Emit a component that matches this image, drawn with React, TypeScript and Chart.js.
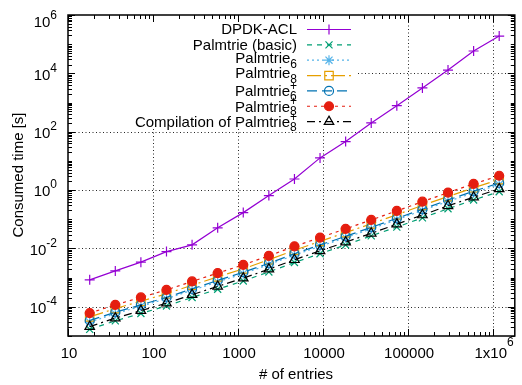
import { useEffect, useRef } from "react";
import { Chart, registerables } from "chart.js";

Chart.register(...registerables);

const FONT = "'Liberation Sans', Arial, Helvetica, sans-serif";

// number of entries (x)
const entries = [18, 36, 72, 144, 288, 576, 1152, 2304, 4608, 9216, 18432, 36864, 73728, 147456, 294912, 589824, 1179648];

// consumed time [s]
const dpdkAcl = [8.4e-4, 1.7e-3, 3.4e-3, 7.8e-3, 0.0133, 0.051, 0.169, 0.65, 2.4, 12.7, 46, 200, 780, 3160, 13000, 58500, 190000];
const palmtrieBasic = [1.7e-5, 3.3e-5, 5.9e-5, 1.07e-4, 2.1e-4, 4.0e-4, 7.7e-4, 1.57e-3, 3.3e-3, 6.6e-3, 0.0132, 0.027, 0.054, 0.112, 0.23, 0.46, 0.88];
const palmtrie6 = [3.0e-5, 5.8e-5, 1.05e-4, 1.9e-4, 3.7e-4, 7.1e-4, 1.37e-3, 2.8e-3, 5.9e-3, 0.0118, 0.0235, 0.047, 0.097, 0.2, 0.41, 0.81, 1.55];
const palmtrie8 = [4.5e-5, 8.7e-5, 1.55e-4, 2.8e-4, 5.5e-4, 1.06e-3, 2.0e-3, 4.1e-3, 8.7e-3, 0.0175, 0.035, 0.07, 0.143, 0.3, 0.6, 1.2, 2.3];
const palmtriePlus6 = [3.4e-5, 6.5e-5, 1.17e-4, 2.1e-4, 4.1e-4, 8.0e-4, 1.54e-3, 3.1e-3, 6.6e-3, 0.0132, 0.026, 0.053, 0.108, 0.22, 0.46, 0.91, 1.75];
const palmtriePlus8 = [6.1e-5, 1.17e-4, 2.1e-4, 3.8e-4, 7.4e-4, 1.43e-3, 2.75e-3, 5.6e-3, 0.0118, 0.0236, 0.047, 0.095, 0.194, 0.4, 0.82, 1.63, 3.1];
const compilationPlus8 = [2.1e-5, 4.1e-5, 7.4e-5, 1.33e-4, 2.6e-4, 5.0e-4, 9.6e-4, 1.95e-3, 4.1e-3, 8.3e-3, 0.0165, 0.033, 0.068, 0.14, 0.29, 0.57, 1.1];

// legend labels (main text, superscript, subscript)
const legendLabels = [
  { text: "DPDK-ACL" },
  { text: "Palmtrie (basic)" },
  { text: "Palmtrie", sub: "6" },
  { text: "Palmtrie", sub: "8" },
  { text: "Palmtrie", sup: "+", sub: "6" },
  { text: "Palmtrie", sup: "+", sub: "8" },
  { text: "Compilation of Palmtrie", sup: "+", sub: "8" },
];

// tick labels
const xMajorTicks = [10, 100, 1000, 10000, 100000, 1000000];
const xTickBases = ["10", "100", "1000", "10000", "100000", "1x10"];
const xTickExps = ["", "", "", "", "", "6"];
const yMajorTicks = [1e-4, 1e-2, 1, 1e2, 1e4, 1e6];
const yTickBases = ["10", "10", "10", "10", "10", "10"];
const yTickExps = ["-4", "-2", "0", "2", "4", "6"];
const xGridValues = [100, 1000, 10000, 100000, 1000000];
const yGridValues = [1e-4, 1e-2, 1, 1e2, 1e4];

const X_MIN = 10;
const X_MAX = 1.8e6;
const Y_MIN = 1e-5;
const Y_MAX = 1e6;

const seriesValues = [dpdkAcl, palmtrieBasic, palmtrie6, palmtrie8, palmtriePlus6, palmtriePlus8, compilationPlus8];

const styles = [
  { color: "#9400d3", dash: [] as number[], point: "cross", radius: 5, fill: false },
  { color: "#009e73", dash: [5, 5], point: "crossRot", radius: 5, fill: false },
  { color: "#56b4e9", dash: [2, 3], point: "star", radius: 5, fill: false },
  { color: "#e69f00", dash: [14, 4, 2, 4], point: "rect", radius: 6, fill: false },
  { color: "#0072b2", dash: [10, 5], point: "circle", radius: 4.5, fill: false },
  { color: "#e51e10", dash: [3, 4], point: "circle", radius: 4.5, fill: true },
  { color: "#000000", dash: [8, 4, 2, 4], point: "triangle", radius: 5.5, fill: false },
];

function drawMarker(ctx: CanvasRenderingContext2D, style: string, x: number, y: number, r: number, color: string, fill: boolean) {
  ctx.save();
  ctx.setLineDash([]);
  ctx.strokeStyle = color;
  ctx.fillStyle = color;
  ctx.lineWidth = 1.2;
  ctx.beginPath();
  if (style === "cross" || style === "star") {
    ctx.moveTo(x, y - r); ctx.lineTo(x, y + r);
    ctx.moveTo(x - r, y); ctx.lineTo(x + r, y);
  }
  if (style === "crossRot" || style === "star") {
    const o = r * Math.SQRT1_2;
    ctx.moveTo(x - o, y - o); ctx.lineTo(x + o, y + o);
    ctx.moveTo(x + o, y - o); ctx.lineTo(x - o, y + o);
  }
  if (style === "rect") {
    const s = r * Math.SQRT1_2;
    ctx.rect(x - s, y - s, 2 * s, 2 * s);
  }
  if (style === "circle") {
    ctx.arc(x, y, r, 0, Math.PI * 2);
  }
  if (style === "triangle") {
    let a = 0;
    ctx.moveTo(x + Math.sin(a) * r, y - Math.cos(a) * r);
    a += (2 * Math.PI) / 3;
    ctx.lineTo(x + Math.sin(a) * r, y - Math.cos(a) * r);
    a += (2 * Math.PI) / 3;
    ctx.lineTo(x + Math.sin(a) * r, y - Math.cos(a) * r);
    ctx.closePath();
  }
  if (fill) ctx.fill();
  ctx.stroke();
  ctx.restore();
}

const KEY = { left: 118, right: 358, bottom: 129 };

const gnuplotPlugin = {
  id: "gnuplotDecor",
  beforeDatasetsDraw(chart: any) {
    const { ctx, chartArea: a, scales } = chart;
    const xs = scales.x, ys = scales.y;
    ctx.save();
    ctx.strokeStyle = "rgba(0,0,0,0.85)";
    ctx.lineWidth = 1;
    ctx.setLineDash([1, 2.5]);
    for (const v of xGridValues) {
      const px = Math.round(xs.getPixelForValue(v)) + 0.5;
      const top = px > KEY.left && px < KEY.right ? KEY.bottom : a.top;
      ctx.beginPath();
      ctx.moveTo(px, top);
      ctx.lineTo(px, a.bottom);
      ctx.stroke();
    }
    for (const v of yGridValues) {
      const py = Math.round(ys.getPixelForValue(v)) + 0.5;
      const left = py < KEY.bottom ? KEY.right : a.left;
      ctx.beginPath();
      ctx.moveTo(left, py);
      ctx.lineTo(a.right, py);
      ctx.stroke();
    }
    ctx.restore();
  },
  afterDatasetsDraw(chart: any) {
    const { ctx, chartArea: a, scales } = chart;
    const xs = scales.x, ys = scales.y;
    ctx.save();
    ctx.setLineDash([]);
    ctx.strokeStyle = "#000";
    ctx.fillStyle = "#000";

    // ticks
    ctx.lineWidth = 1;
    const majorLen = 7, minorLen = 4;
    ctx.beginPath();
    for (let k = 1; k <= 6; k++) {
      for (let m = 1; m <= 9; m++) {
        const v = m * Math.pow(10, k);
        if (v < X_MIN || v > X_MAX) continue;
        const len = m === 1 ? majorLen : minorLen;
        const px = Math.round(xs.getPixelForValue(v)) + 0.5;
        ctx.moveTo(px, a.bottom); ctx.lineTo(px, a.bottom - len);
        ctx.moveTo(px, a.top); ctx.lineTo(px, a.top + len);
      }
    }
    for (let k = -5; k <= 6; k++) {
      for (let m = 1; m <= 9; m++) {
        const v = m * Math.pow(10, k);
        if (v < Y_MIN * 0.999 || v > Y_MAX * 1.001) continue;
        const major = m === 1 && k % 2 === 0;
        const len = major ? majorLen : minorLen;
        const py = Math.round(ys.getPixelForValue(v)) + 0.5;
        ctx.moveTo(a.left, py); ctx.lineTo(a.left + len, py);
        ctx.moveTo(a.right, py); ctx.lineTo(a.right - len, py);
      }
    }
    ctx.stroke();

    // border
    ctx.lineWidth = 1.5;
    ctx.strokeRect(a.left, a.top, a.right - a.left, a.bottom - a.top);

    // y tick labels
    const big = `15px ${FONT}`, small = `12px ${FONT}`;
    yMajorTicks.forEach((v, i) => {
      let py = ys.getPixelForValue(v);
      if (v >= Y_MAX) py += 5.5;
      ctx.font = small;
      ctx.textAlign = "right";
      const ew = ctx.measureText(yTickExps[i]).width;
      ctx.fillText(yTickExps[i], 57, py - 1.8);
      ctx.font = big;
      ctx.fillText(yTickBases[i], 57 - ew, py + 6.4);
    });

    // x tick labels
    xMajorTicks.forEach((v, i) => {
      const px = xs.getPixelForValue(v);
      ctx.font = small;
      const ew = xTickExps[i] ? ctx.measureText(xTickExps[i]).width : 0;
      ctx.font = big;
      const bw = ctx.measureText(xTickBases[i]).width;
      const x0 = px - (bw + ew) / 2 + 1;
      ctx.textAlign = "left";
      ctx.fillText(xTickBases[i], x0, 357.5);
      if (ew) {
        ctx.font = small;
        ctx.fillText(xTickExps[i], x0 + bw, 346);
      }
    });

    // axis titles
    ctx.font = big;
    ctx.textAlign = "center";
    ctx.fillText("# of entries", 296, 379);
    ctx.save();
    ctx.translate(22.5, 175);
    ctx.rotate(-Math.PI / 2);
    ctx.fillText("Consumed time [s]", 0, 0);
    ctx.restore();

    // legend
    const rowY0 = 29, rowStep = 15.35, textRight = 297;
    legendLabels.forEach((item: any, i) => {
      const cy = rowY0 + i * rowStep;
      const st = styles[i];
      ctx.fillStyle = "#000";
      if (!item.sub && !item.sup) {
        ctx.font = big;
        ctx.textAlign = "right";
        ctx.fillText(item.text, textRight, cy + 5.4);
      } else {
        ctx.font = small;
        const w = Math.max(item.sub ? ctx.measureText(item.sub).width : 0, item.sup ? ctx.measureText(item.sup).width : 0);
        const x0 = textRight - w;
        ctx.textAlign = "left";
        let base;
        if (item.sup) {
          ctx.fillText(item.sup, x0, cy - 0.5);
          ctx.fillText(item.sub, x0, cy + 9.5);
          base = cy + 6;
        } else {
          ctx.fillText(item.sub, x0, cy + 8.2);
          base = cy + 3;
        }
        ctx.font = big;
        ctx.textAlign = "right";
        ctx.fillText(item.text, x0, base);
      }
      // sample
      ctx.save();
      ctx.strokeStyle = st.color;
      ctx.lineWidth = 1.2;
      ctx.setLineDash(st.dash);
      ctx.beginPath();
      ctx.moveTo(307, cy + 0.5);
      ctx.lineTo(351, cy + 0.5);
      ctx.stroke();
      ctx.restore();
      drawMarker(ctx, st.point, 329, cy + 0.5, st.radius, st.color, st.fill);
    });

    ctx.restore();
  },
};

export default function App() {
  const ref = useRef<HTMLCanvasElement>(null);
  useEffect(() => {
    if (!ref.current) return;
    const n = seriesValues.length;
    const chart = new Chart(ref.current, {
      type: "line",
      data: {
        datasets: seriesValues.map((vals, i) => ({
          label: legendLabels[i].text,
          data: entries.map((x, j) => ({ x, y: vals[j] })),
          borderColor: styles[i].color,
          backgroundColor: styles[i].fill ? styles[i].color : "rgba(0,0,0,0)",
          borderWidth: 1.2,
          borderDash: styles[i].dash,
          pointStyle: styles[i].point as any,
          pointRadius: styles[i].radius,
          pointBorderWidth: 1.2,
          pointBorderColor: styles[i].color,
          pointBackgroundColor: styles[i].fill ? styles[i].color : "rgba(0,0,0,0)",
          fill: false,
          tension: 0,
          order: n - i,
        })),
      },
      options: {
        animation: false,
        responsive: false,
        devicePixelRatio: 1,
        layout: { padding: { left: 68, right: 1, top: 15, bottom: 49 } },
        plugins: { legend: { display: false }, tooltip: { enabled: false } },
        scales: {
          x: {
            type: "logarithmic",
            min: X_MIN,
            max: X_MAX,
            grid: { display: false, drawTicks: false },
            border: { display: false },
            ticks: { display: false },
          },
          y: {
            type: "logarithmic",
            min: Y_MIN,
            max: Y_MAX,
            grid: { display: false, drawTicks: false },
            border: { display: false },
            ticks: { display: false },
          },
        },
      },
      plugins: [gnuplotPlugin],
    });
    return () => chart.destroy();
  }, []);
  return (
    <canvas
      ref={ref}
      width={522}
      height={385}
      style={{ position: "absolute", left: 0, top: 0, width: 522, height: 385 }}
    />
  );
}
